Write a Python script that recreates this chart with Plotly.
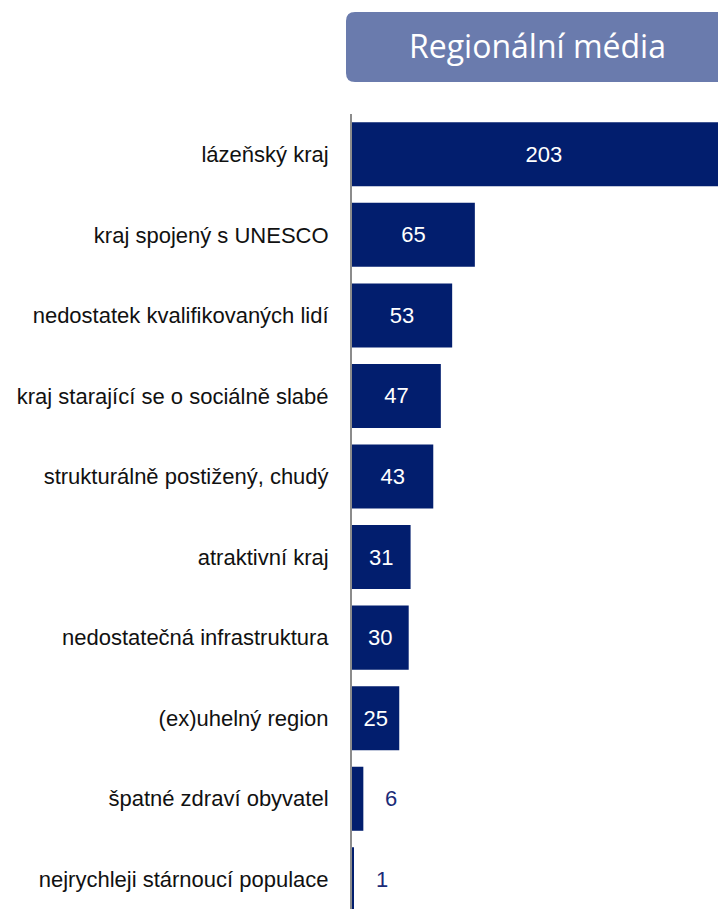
import plotly.graph_objects as go

categories = [
    "lázeňský kraj",
    "kraj spojený s UNESCO",
    "nedostatek kvalifikovaných lidí",
    "kraj starající se o sociálně slabé",
    "strukturálně postižený, chudý",
    "atraktivní kraj",
    "nedostatečná infrastruktura",
    "(ex)uhelný region",
    "špatné zdraví obyvatel",
    "nejrychleji stárnoucí populace",
]
values = [203, 65, 53, 47, 43, 31, 30, 25, 6, 1]
title_text = "Regionální média"
outside_threshold = 10

NAVY = "#021E6E"
BOX = "#6A7BAD"

inside_text = [str(v) if v >= outside_threshold else "" for v in values]

fig = go.Figure()
fig.add_trace(go.Bar(
    x=values,
    y=categories,
    orientation="h",
    marker=dict(color=NAVY, line=dict(width=0)),
    text=inside_text,
    textposition="inside",
    insidetextanchor="middle",
    textangle=0,
    textfont=dict(color="white", size=22, family="Liberation Sans, Arial, sans-serif"),
    hoverinfo="skip",
))

for c, v in zip(categories, values):
    if v < outside_threshold:
        fig.add_annotation(
            x=v, y=c, xref="x", yref="y",
            text=str(v), showarrow=False,
            xanchor="left", yanchor="middle", xshift=20,
            font=dict(color="#1B2B78", size=22, family="Liberation Sans, Arial, sans-serif"),
        )

W, H = 718, 909
ml, mt = 352, 114
pw = W - ml
ph = H - mt
# title box in paper coords
bx0 = (346 - ml) / pw
bx1 = 1.02
by1 = (ph - (12 - mt)) / ph
by0 = (ph - (82 - mt)) / ph
rx = 9 / pw
ry = 9 / ph
path = (
    f"M {bx0+rx} {by1} L {bx1} {by1} L {bx1} {by0} L {bx0+rx} {by0} "
    f"Q {bx0} {by0} {bx0} {by0+ry} L {bx0} {by1-ry} Q {bx0} {by1} {bx0+rx} {by1} Z"
)
fig.add_shape(type="path", path=path, xref="paper", yref="paper",
              fillcolor=BOX, line=dict(width=0), layer="above")
fig.add_annotation(
    x=(537 - ml) / pw, y=(by0 + by1) / 2 + 1.5 / ph, xref="paper", yref="paper",
    text=title_text, showarrow=False, xanchor="center", yanchor="middle",
    font=dict(color="white", size=32, family="Open Sans, Noto Sans, sans-serif"),
)

step = 80.56
nvis = ph / step

fig.update_layout(
    width=W, height=H,
    margin=dict(l=ml, r=0, t=mt, b=0, pad=0),
    paper_bgcolor="white", plot_bgcolor="white",
    showlegend=False,
    bargap=0.205,
    font=dict(family="Liberation Sans, Arial, sans-serif", color="#111111"),
    xaxis=dict(range=[0, pw / 1.89], visible=False, fixedrange=True),
    yaxis=dict(
        range=[-0.5 + nvis, -0.5],
        showline=True, linecolor="#8C8C8C", linewidth=2,
        showgrid=False, zeroline=False, ticks="",
        ticklabelstandoff=17,
        tickfont=dict(size=22, color="#111111", family="Liberation Sans, Arial, sans-serif"),
        fixedrange=True,
    ),
)

fig.write_html("out.html")
